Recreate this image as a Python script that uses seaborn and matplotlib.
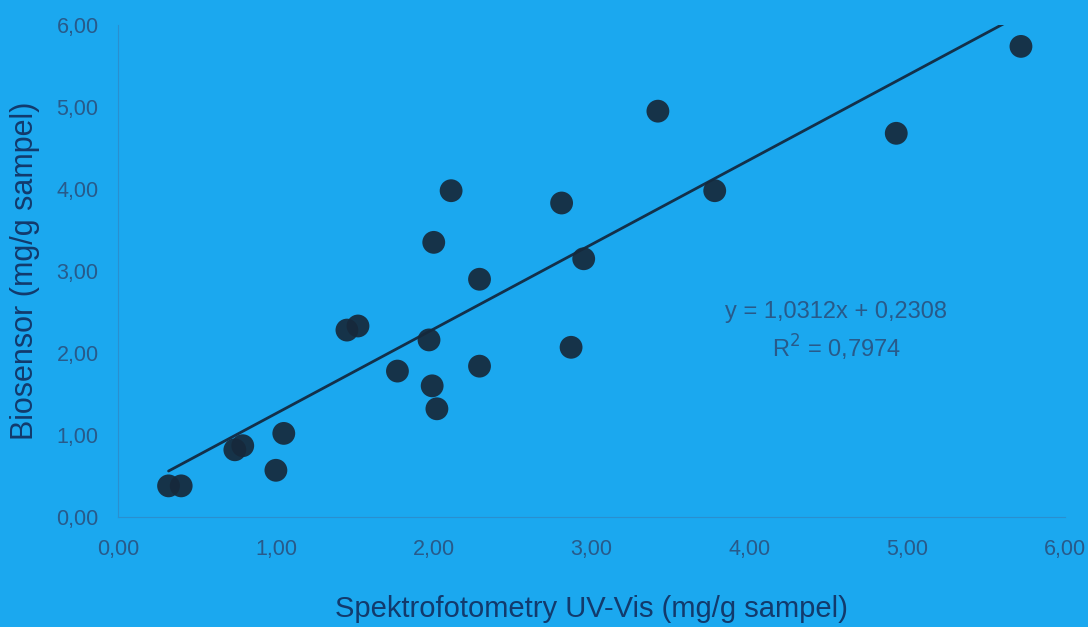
import numpy as np
import pandas as pd
import matplotlib
matplotlib.use("Agg")
import matplotlib.pyplot as plt
import seaborn as sns

# Data
spektro = [0.32, 0.40, 0.74, 0.79, 1.00, 1.05, 1.45, 1.52, 1.77, 1.97, 2.00,
           1.99, 2.02, 2.11, 2.29, 2.29, 2.81, 2.87, 2.95, 3.42, 3.78, 4.93, 5.72]
biosensor = [0.38, 0.38, 0.82, 0.87, 0.57, 1.02, 2.28, 2.33, 1.78, 2.16, 3.35,
             1.60, 1.32, 3.98, 2.90, 1.84, 3.83, 2.07, 3.15, 4.95, 3.98, 4.68, 5.74]
slope = 1.0312
intercept = 0.2308
r2 = 0.7974
x_ticks = [0, 1, 2, 3, 4, 5, 6]
y_ticks = [0, 1, 2, 3, 4, 5, 6]
x_label = "Spektrofotometry UV-Vis (mg/g sampel)"
y_label = "Biosensor (mg/g sampel)"

BG = "#1ba8ef"
TXT = "#285a8a"
LBL = "#123a6c"
DOT = "#16293b"

sns.set_theme(style="white")
plt.rcParams['font.family'] = ['Liberation Sans', 'DejaVu Sans']

df = pd.DataFrame({"x": spektro, "y": biosensor})

fig = plt.figure(figsize=(10.88, 6.27), dpi=100, facecolor=BG)
ax = fig.add_axes([0.1085, 0.1754, 0.8705, 0.7846])
ax.set_facecolor(BG)

sns.scatterplot(data=df, x="x", y="y", ax=ax, s=270, color=DOT,
                edgecolor="none", alpha=0.92, zorder=3, clip_on=False)

xl = np.array([min(spektro), max(spektro)])
ax.plot(xl, slope * xl + intercept, color="#13304a", lw=2.0, zorder=2)

ax.set_xlim(0, 6)
ax.set_ylim(0, 6)
ax.set_xticks(x_ticks)
ax.set_yticks(y_ticks)
ax.set_xticklabels([f"{v:.2f}".replace(".", ",") for v in x_ticks])
ax.set_yticklabels([f"{v:.2f}".replace(".", ",") for v in y_ticks])
ax.tick_params(axis="both", length=0, labelsize=15.5, labelcolor=TXT)
ax.tick_params(axis="x", pad=16)
ax.tick_params(axis="y", pad=14)

for s in ["top", "right"]:
    ax.spines[s].set_visible(False)
for s in ["left", "bottom"]:
    ax.spines[s].set_color("#2a8fcf")
    ax.spines[s].set_linewidth(0.8)

ax.set_xlabel(x_label, fontsize=21, color=LBL, labelpad=25, fontweight="medium")
ax.set_ylabel(y_label, fontsize=22, color=LBL, fontweight="medium")
ax.yaxis.set_label_coords(-0.082, 0.5)

eq = f"y = {slope:.4f}x + {intercept:.4f}".replace(".", ",")
r2t = f"R$^2$ = {r2:.4f}".replace(".", ",")
ax.text(4.55, 2.5, eq, ha="center", va="center", fontsize=17, color=TXT)
ax.text(4.55, 2.06, r2t, ha="center", va="center", fontsize=17, color=TXT)

fig.savefig("out.png", dpi=100, facecolor=BG)
